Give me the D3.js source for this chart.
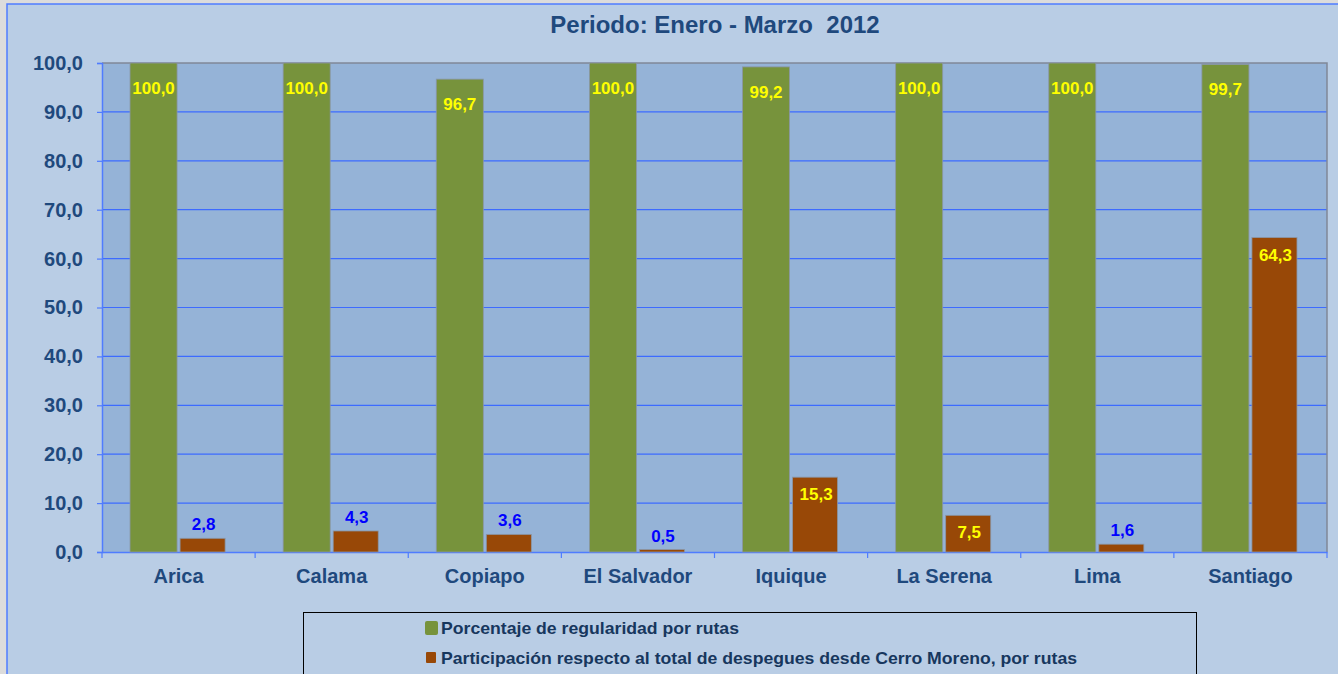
<!DOCTYPE html>
<html>
<head>
<meta charset="utf-8">
<script src="https://cdn.jsdelivr.net/npm/d3@7"></script>
<style>
  html, body { margin: 0; padding: 0; background: #dcdcdc; }
  svg { display: block; }
</style>
</head>
<body>
<svg width="1338" height="674"></svg>
<script>
(function () {
    var categories = ['Arica', 'Calama', 'Copiapo', 'El Salvador', 'Iquique', 'La Serena', 'Lima', 'Santiago'];
    var regularidad = [100.0, 100.0, 96.7, 100.0, 99.2, 100.0, 100.0, 99.7];
    var participacion = [2.8, 4.3, 3.6, 0.5, 15.3, 7.5, 1.6, 64.3];
    var yTicks = [0, 10, 20, 30, 40, 50, 60, 70, 80, 90, 100];
    var seriesNames = [
        'Porcentaje de regularidad por rutas',
        'Participación respecto al total de despegues desde Cerro Moreno, por rutas'
    ];
    var seriesColors = ['#77933c', '#984807'];
    var title = 'Periodo: Enero - Marzo  2012';

    var svg = d3.select('svg');
    var navy = '#1f497d';
    var font = '"Liberation Sans", Arial, sans-serif';

    var plot = { left: 102, right: 1327, top: 63, bottom: 552 };

    // fondo general
    svg.append('rect')
        .attr('x', 7).attr('y', 4)
        .attr('width', 1338).attr('height', 680)
        .attr('fill', '#b9cde5')
        .attr('stroke', '#4f7cff')
        .attr('stroke-width', 1.5);

    svg.append('text')
        .attr('x', 715).attr('y', 33)
        .attr('text-anchor', 'middle')
        .attr('font-family', font)
        .attr('font-weight', 'bold')
        .attr('font-size', 24)
        .attr('fill', navy)
        .style('white-space', 'pre')
        .text(title);

    var x0 = d3.scaleBand()
        .domain(categories)
        .range([plot.left, plot.right])
        .padding(0);

    var x1 = d3.scaleBand()
        .domain([0, 1])
        .range([0, x0.bandwidth()])
        .paddingInner(0.06)
        .paddingOuter(0.56);

    var y = d3.scaleLinear()
        .domain([0, 100])
        .range([plot.bottom, plot.top]);

    var fmt = function (v) {
        return d3.format('.1f')(v).replace('.', ',');
    };

    // area del grafico
    svg.append('rect')
        .attr('x', plot.left).attr('y', plot.top)
        .attr('width', plot.right - plot.left)
        .attr('height', plot.bottom - plot.top)
        .attr('fill', '#95b3d7');

    svg.append('g')
        .selectAll('line')
        .data(yTicks.filter(function (t) { return t > 0 && t < 100; }))
        .enter()
        .append('line')
        .attr('x1', plot.left).attr('x2', plot.right)
        .attr('y1', function (d) { return y(d); })
        .attr('y2', function (d) { return y(d); })
        .attr('stroke', '#3d6bff')
        .attr('stroke-width', 1.2);

    // borde gris arriba y a la derecha
    svg.append('path')
        .attr('d', 'M' + plot.left + ',' + y(100) + 'H' + plot.right + 'V' + plot.bottom)
        .attr('fill', 'none')
        .attr('stroke', '#808898')
        .attr('stroke-width', 1.5);

    // eje y
    var yAxis = svg.append('g')
        .attr('transform', 'translate(' + plot.left + ',0)')
        .call(d3.axisLeft(y).tickValues(yTicks).tickFormat(fmt).tickSize(5).tickPadding(14));
    yAxis.select('.domain').attr('stroke', '#4f7cff').attr('stroke-width', 1.5);
    yAxis.selectAll('.tick line').attr('stroke', '#4f7cff').attr('stroke-width', 1.2);
    yAxis.selectAll('text')
        .attr('font-family', font)
        .attr('font-weight', 'bold')
        .attr('font-size', 20)
        .attr('fill', navy);

    // eje x
    var xAxis = svg.append('g')
        .attr('transform', 'translate(0,' + plot.bottom + ')')
        .call(d3.axisBottom(x0).tickSize(0).tickPadding(0));
    xAxis.select('.domain').attr('stroke', '#4f7cff').attr('stroke-width', 1.5);
    xAxis.selectAll('text')
        .attr('y', 31)
        .attr('dy', 0)
        .attr('font-family', font)
        .attr('font-weight', 'bold')
        .attr('font-size', 20)
        .attr('fill', navy);

    svg.append('g')
        .selectAll('line')
        .data(categories.concat(['end']))
        .enter()
        .append('line')
        .attr('x1', function (d, i) { return plot.left + i * x0.step(); })
        .attr('x2', function (d, i) { return plot.left + i * x0.step(); })
        .attr('y1', plot.bottom).attr('y2', plot.bottom + 6)
        .attr('stroke', '#4f7cff')
        .attr('stroke-width', 1.2);

    // barras
    var series = [regularidad, participacion];
    var bars = svg.append('g');
    var labels = svg.append('g');

    series.forEach(function (values, s) {
        bars.selectAll('rect.s' + s)
            .data(values)
            .enter()
            .append('rect')
            .attr('class', 's' + s)
            .attr('x', function (d, i) { return x0(categories[i]) + x1(s); })
            .attr('y', function (d) { return y(d); })
            .attr('width', s === 0 ? x1.bandwidth() : x1.bandwidth() - 2)
            .attr('height', function (d) { return y(0) - y(d); })
            .attr('fill', seriesColors[s])
            .attr('stroke', '#8a96a6')
            .attr('stroke-width', 0.8);

        labels.selectAll('text.s' + s)
            .data(values)
            .enter()
            .append('text')
            .attr('x', function (d, i) { return x0(categories[i]) + x1(s) + x1.bandwidth() / 2; })
            .attr('y', function (d) {
                var h = y(0) - y(d);
                if (h <= 25) {
                    return y(d) - 8;
                }
                return y(d) + (s === 0 ? 31 : 23);
            })
            .attr('text-anchor', 'middle')
            .attr('font-family', font)
            .attr('font-weight', 'bold')
            .attr('font-size', 17)
            .attr('fill', function (d) {
                return y(0) - y(d) > 25 ? '#ffff00' : '#0000ff';
            })
            .text(fmt);
    });

    // leyenda
    var legend = svg.append('g');
    legend.append('rect')
        .attr('x', 303.5).attr('y', 612.5)
        .attr('width', 893).attr('height', 80)
        .attr('fill', '#b9cde5')
        .attr('stroke', '#000')
        .attr('stroke-width', 1);

    var legendWidths = [298, 636];
    seriesNames.forEach(function (name, i) {
        var cy = 628 + i * 30;
        legend.append('rect')
            .attr('x', i === 0 ? 425 : 426)
            .attr('y', i === 0 ? cy - 7 : cy - 6)
            .attr('width', i === 0 ? 13 : 10)
            .attr('height', i === 0 ? 14 : 11)
            .attr('rx', i === 0 ? 2 : 1)
            .attr('fill', seriesColors[i]);
        legend.append('text')
            .attr('x', 441).attr('y', cy + 6)
            .attr('font-family', '"Liberation Sans Narrow", "Arial Narrow", ' + font)
            .attr('font-weight', 'bold')
            .attr('font-size', 17)
            .attr('fill', '#17375e')
            .attr('textLength', legendWidths[i])
            .attr('lengthAdjust', 'spacingAndGlyphs')
            .text(name);
    });
}());
</script>
</body>
</html>
